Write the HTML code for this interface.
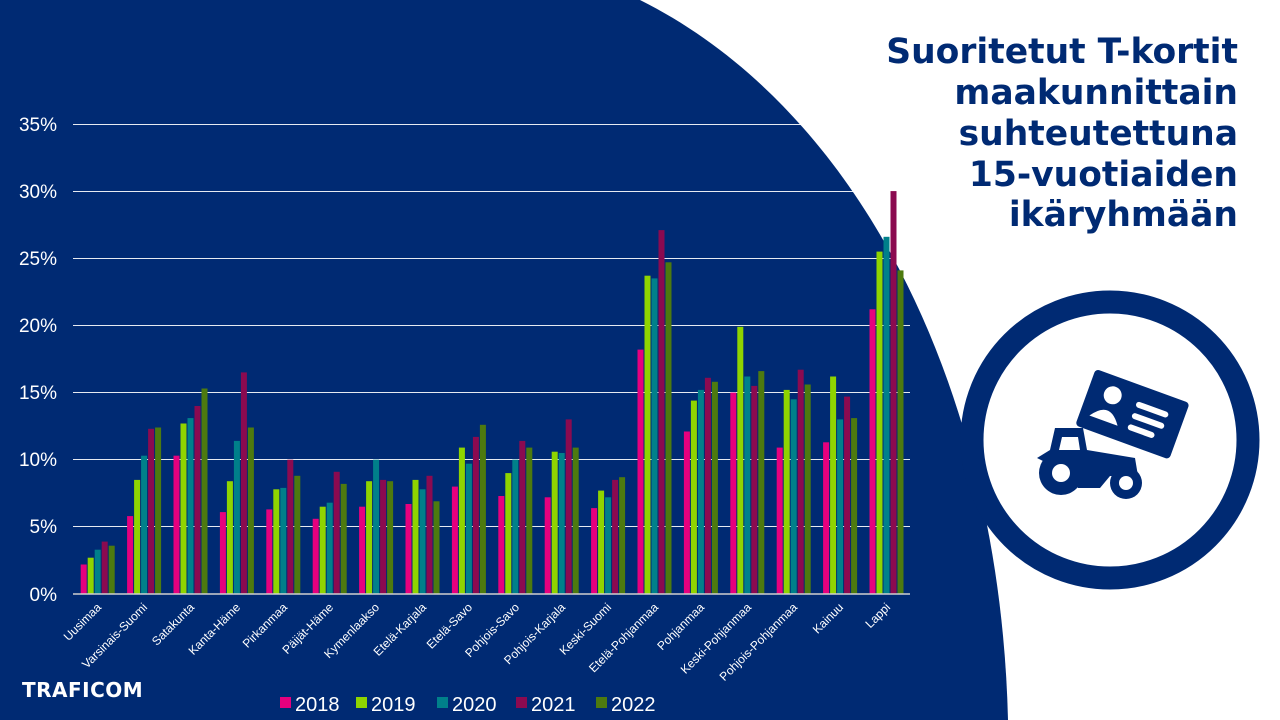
<!DOCTYPE html>
<html><head><meta charset="utf-8"><style>
html,body{margin:0;padding:0;width:1280px;height:720px;overflow:hidden;background:#fff;}
svg{display:block;font-family:"Liberation Sans",sans-serif;}
</style></head><body>
<svg id="s" width="1280" height="720" viewBox="0 0 1280 720" xmlns="http://www.w3.org/2000/svg">
<path d="M0,0 L640,0 C860,110 1000,390 1008,720 L0,720 Z" fill="#002a73"/>
<circle cx="1110" cy="440" r="138" fill="#fff" stroke="#002a73" stroke-width="23"/>
<g fill="#002a73">
<g transform="rotate(20 1125 420)"><rect x="1080" y="382" width="100" height="60" rx="4"/>
<circle cx="1105" cy="401" r="9" fill="#fff"/><path d="M1090,428 q15,-22 30,0 z" fill="#fff"/>
<rect x="1130" y="398" width="34" height="6" rx="3" fill="#fff"/><rect x="1130" y="410" width="34" height="6" rx="3" fill="#fff"/><rect x="1130" y="422" width="28" height="6" rx="3" fill="#fff"/></g>
<path d="M1055,428 L1083,428 L1087,450 L1135,458 L1138,476 L1110,476 L1100,488 L1078,488 L1072,475 L1045,462 L1037,458 L1050,450 Z"/>
<path d="M1062,437 L1078,437 L1080,450 L1059,450 Z" fill="#fff"/>
<circle cx="1061" cy="473" r="22"/><circle cx="1061" cy="473" r="9" fill="#fff"/>
<circle cx="1126" cy="483" r="16"/><circle cx="1126" cy="483" r="7" fill="#fff"/>
</g>
<g font-family="DejaVu Sans,sans-serif" font-weight="bold" font-size="34.5" fill="#002a73" text-anchor="end">
<text x="1238" y="63">Suoritetut T-kortit</text>
<text x="1238" y="104">maakunnittain</text>
<text x="1238" y="145">suhteutettuna</text>
<text x="1238" y="186">15-vuotiaiden</text>
<text x="1238" y="226">ikäryhmään</text>
</g>
<g stroke="#fff" stroke-width="1" opacity="0.9">
<line x1="73" x2="910" y1="124.5" y2="124.5"/><line x1="73" x2="910" y1="191.5" y2="191.5"/>
<line x1="73" x2="910" y1="258.5" y2="258.5"/><line x1="73" x2="910" y1="325.5" y2="325.5"/>
<line x1="73" x2="910" y1="392.5" y2="392.5"/><line x1="73" x2="910" y1="459.5" y2="459.5"/>
<line x1="73" x2="910" y1="526.5" y2="526.5"/>
</g>
<g fill="#fff" font-size="19" text-anchor="end">
<text x="57" y="131">35%</text><text x="57" y="198">30%</text><text x="57" y="265">25%</text>
<text x="57" y="332">20%</text><text x="57" y="399">15%</text><text x="57" y="466">10%</text>
<text x="57" y="533">5%</text><text x="57" y="601">0%</text>
</g>
<g id="bars"></g>
<line x1="73" x2="910" y1="594" y2="594" stroke="#d0d0d0" stroke-width="1.5"/>
<g fill="#fff" font-size="12" text-anchor="end">
<text transform="translate(102,608) rotate(-45)">Uusimaa</text>
<text transform="translate(148,608) rotate(-45)">Varsinais-Suomi</text>
<text transform="translate(195,608) rotate(-45)">Satakunta</text>
<text transform="translate(241,608) rotate(-45)">Kanta-Häme</text>
<text transform="translate(288,608) rotate(-45)">Pirkanmaa</text>
<text transform="translate(334,608) rotate(-45)">Päijät-Häme</text>
<text transform="translate(380,608) rotate(-45)">Kymenlaakso</text>
<text transform="translate(427,608) rotate(-45)">Etelä-Karjala</text>
<text transform="translate(473,608) rotate(-45)">Etelä-Savo</text>
<text transform="translate(520,608) rotate(-45)">Pohjois-Savo</text>
<text transform="translate(566,608) rotate(-45)">Pohjois-Karjala</text>
<text transform="translate(612,608) rotate(-45)">Keski-Suomi</text>
<text transform="translate(659,608) rotate(-45)">Etelä-Pohjanmaa</text>
<text transform="translate(705,608) rotate(-45)">Pohjanmaa</text>
<text transform="translate(752,608) rotate(-45)">Keski-Pohjanmaa</text>
<text transform="translate(798,608) rotate(-45)">Pohjois-Pohjanmaa</text>
<text transform="translate(844,608) rotate(-45)">Kainuu</text>
<text transform="translate(891,608) rotate(-45)">Lappi</text>
</g>
<g font-family="DejaVu Sans,sans-serif" font-weight="bold" font-size="20" fill="#fff">
<text x="22" y="697" letter-spacing="0.5">TRAFICOM</text>
</g>
<g font-size="20" fill="#fff">
<rect x="280" y="697" width="11" height="11" fill="#e6007e"/><text x="295" y="711">2018</text>
<rect x="356" y="697" width="11" height="11" fill="#8fd400"/><text x="371" y="711">2019</text>
<rect x="437" y="697" width="11" height="11" fill="#00808a"/><text x="452" y="711">2020</text>
<rect x="516" y="697" width="11" height="11" fill="#8b0a50"/><text x="531" y="711">2021</text>
<rect x="596" y="697" width="11" height="11" fill="#4d7a0f"/><text x="611" y="711">2022</text>
</g>
</svg>
<script>
var d=[[2.2,2.7,3.3,3.9,3.6],[5.8,8.5,10.3,12.3,12.4],[10.3,12.7,13.1,14.0,15.3],[6.1,8.4,11.4,16.5,12.4],[6.3,7.8,7.9,10.0,8.8],[5.6,6.5,6.8,9.1,8.2],[6.5,8.4,10.0,8.5,8.4],[6.7,8.5,7.8,8.8,6.9],[8.0,10.9,9.7,11.7,12.6],[7.3,9.0,10.0,11.4,10.9],[7.2,10.6,10.5,13.0,10.9],[6.4,7.7,7.2,8.5,8.7],[18.2,23.7,23.5,27.1,24.7],[12.1,14.4,15.2,16.1,15.8],[15.0,19.9,16.2,15.5,16.6],[10.9,15.2,14.5,16.7,15.6],[11.3,16.2,13.0,14.7,13.1],[21.2,25.5,26.6,30.0,24.1]];
var c=["#e6007e","#8fd400","#00808a","#8b0a50","#4d7a0f"],g=document.getElementById("bars"),h="";
for(var i=0;i<18;i++){var cx=75+46.4*(i+0.5);for(var k=0;k<5;k++){var v=d[i][k]*470/35;h+='<rect x="'+(cx-17.5+k*7).toFixed(1)+'" y="'+(594-v).toFixed(1)+'" width="6" height="'+v.toFixed(1)+'" fill="'+c[k]+'"/>';}}
g.innerHTML=h;
</script>
</body></html>
